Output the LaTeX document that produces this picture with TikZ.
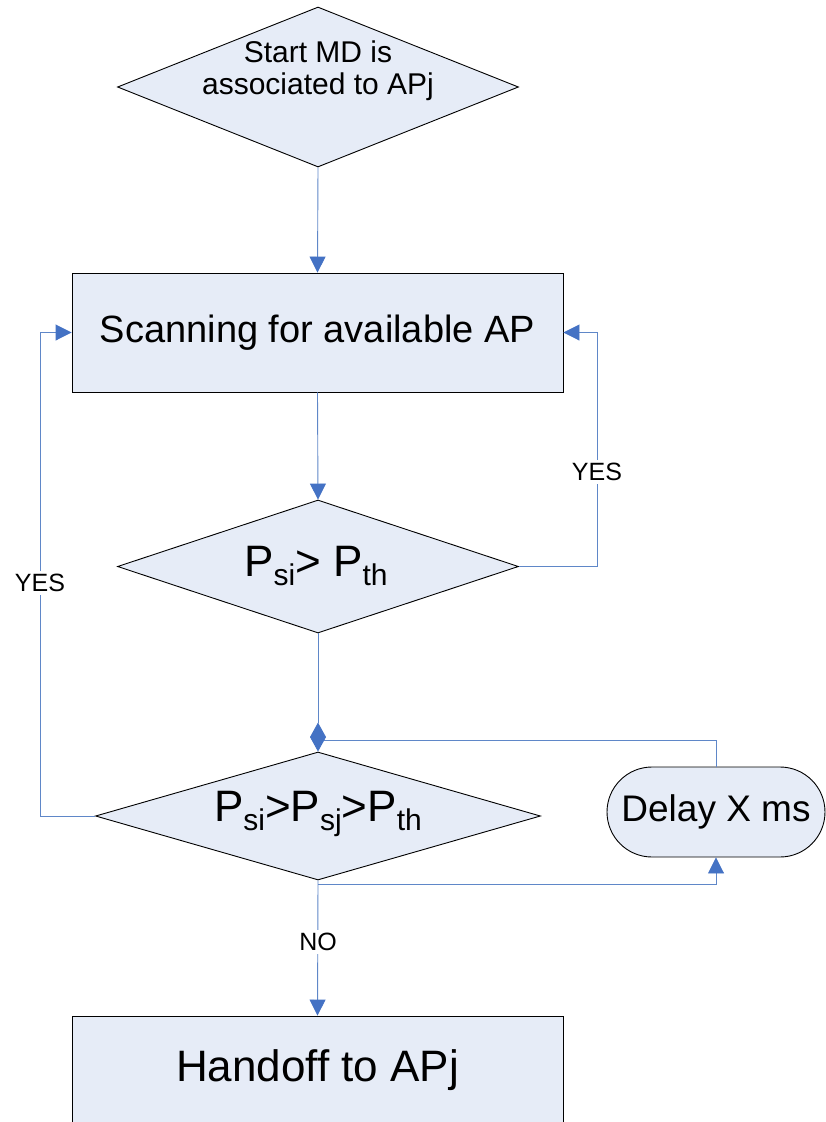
\documentclass[tikz,border=0pt]{standalone}
\usepackage{fontspec}
\setmainfont{Liberation Sans}
\usetikzlibrary{shapes.geometric,arrows.meta}
\definecolor{boxfill}{RGB}{230,236,247}
\definecolor{linec}{RGB}{95,135,200}
\definecolor{tipc}{RGB}{68,114,196}
\newcommand\myfs[2]{\fontsize{#1}{#2}\selectfont}
\newcommand\mysub[1]{\raisebox{-9pt}{\myfs{30}{30}#1}}
\tikzset{
  boxnode/.style={draw=black, line width=0.9pt, fill=boxfill, inner sep=0pt},
  dianode/.style={boxnode, diamond},
  conn/.style={draw=linec, line width=0.9pt, -{Triangle[length=16pt,width=16pt,color=tipc]}},
  plainline/.style={draw=linec, line width=0.9pt},
  lbl/.style={fill=white, inner sep=3pt, font=\myfs{25}{28}},
}
\begin{document}
\begin{tikzpicture}[x=1pt,y=-1pt]
\useasboundingbox (0,0) rectangle (826,1122);
% nodes
\node[dianode, minimum width=401pt, minimum height=160pt] (start) at (318,87) {};
\node[align=center, font=\myfs{30}{32}] (starttxt) at (318,71) {Start MD is\\associated to APj};
\node[boxnode, minimum width=491pt, minimum height=119pt, font=\myfs{38}{44}] (scan) at (317.5,332.5) {Scanning for available AP};
\node[dianode, minimum width=401pt, minimum height=133pt] (d2) at (318,566.5) {};
\node[font=\myfs{44}{48}] (d2txt) at (316,566) {P\mysub{si}> P\mysub{th}};
\node[dianode, minimum width=445pt, minimum height=128pt] (d3) at (318,816) {};
\node[font=\myfs{44}{48}] (d3txt) at (318,814) {P\mysub{si}>P\mysub{sj}>P\mysub{th}};
\node[boxnode, rounded corners=45pt, minimum width=218pt, minimum height=90pt, font=\myfs{37}{42}] (delay) at (716,812) {Delay X ms};
\node[boxnode, minimum width=491pt, minimum height=108pt, font=\myfs{44}{48}] (handoff) at (317.5,1070) {Handoff to APj};
% helper coordinates
\coordinate (r1) at (597,566.5);
\coordinate (l1) at (40,816);
\coordinate (j1) at (318,740);
\coordinate (j2) at (318,884);
% connectors
\draw[conn] (start.south) -- (scan.north);
\draw[conn] (scan.south) -- (d2.north);
\draw[conn] (d2.east) -- (r1) |- (scan.east);
\node[lbl] (yes1) at (597,472) {YES};
\draw[conn] (d3.west) -- (l1) |- (scan.west);
\node[lbl] (yes2) at (40,583) {YES};
\draw[plainline] (delay.north) |- (j1);
\draw[draw=linec, line width=0.9pt, -{Turned Square[length=29pt,width=16pt,color=tipc]}] (d2.south) -- (d3.north);
\draw[conn] (d3.south) -- (handoff.north);
\node[lbl] (no) at (318,942) {NO};
\draw[conn] (j2) -| (delay.south);
\end{tikzpicture}
\end{document}
